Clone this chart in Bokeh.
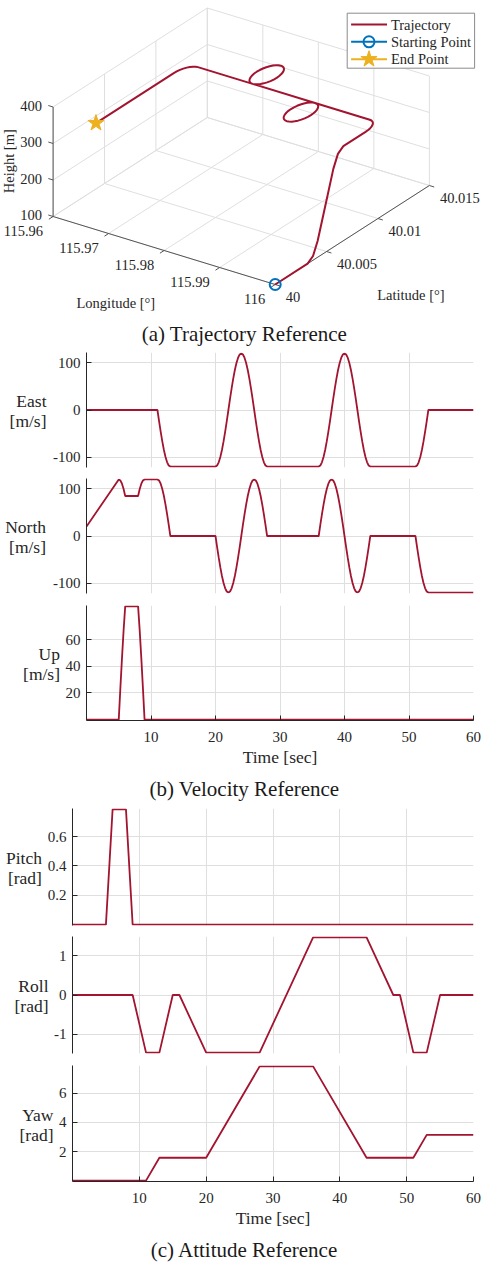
import numpy as np
from bokeh.plotting import figure
from bokeh.models import Range1d, FixedTicker
from bokeh.layouts import column, row
from bokeh.core.properties import value
from bokeh.embed import file_html
from bokeh.resources import INLINE

# ======================= DATA =======================
# ---- (b) velocity reference [m/s] ----
east_time = [0, 11, 11.25, 11.5, 11.75, 12, 12.25, 12.5, 12.75, 13,
             20, 20.25, 20.5, 20.75, 21, 21.25, 21.5, 21.75, 22, 22.25, 22.5, 22.75, 23, 23.25, 23.5, 23.75,
             24, 24.25, 24.5, 24.75, 25, 25.25, 25.5, 25.75, 26, 26.25, 26.5, 26.75, 27, 27.25, 27.5, 27.75, 28,
             36, 36.25, 36.5, 36.75, 37, 37.25, 37.5, 37.75, 38, 38.25, 38.5, 38.75, 39, 39.25, 39.5, 39.75,
             40, 40.25, 40.5, 40.75, 41, 41.25, 41.5, 41.75, 42, 42.25, 42.5, 42.75, 43, 43.25, 43.5, 43.75, 44,
             51, 51.25, 51.5, 51.75, 52, 52.25, 52.5, 52.75, 53, 60]
east_vel = [0, 0, -23.41, -45.92, -66.67, -84.85, -99.78, -110.87, -117.69, -120,
            -120, -117.69, -110.87, -99.78, -84.85, -66.67, -45.92, -23.41, 0, 23.41, 45.92, 66.67, 84.85, 99.78, 110.87, 117.69,
            120, 117.69, 110.87, 99.78, 84.85, 66.67, 45.92, 23.41, 0, -23.41, -45.92, -66.67, -84.85, -99.78, -110.87, -117.69, -120,
            -120, -117.69, -110.87, -99.78, -84.85, -66.67, -45.92, -23.41, 0, 23.41, 45.92, 66.67, 84.85, 99.78, 110.87, 117.69,
            120, 117.69, 110.87, 99.78, 84.85, 66.67, 45.92, 23.41, 0, -23.41, -45.92, -66.67, -84.85, -99.78, -110.87, -117.69, -120,
            -120, -117.69, -110.87, -99.78, -84.85, -66.67, -45.92, -23.41, 0, 0]

north_time = [0, 5, 5.25, 5.5, 5.75, 6, 8, 8.25, 8.5, 8.75, 9,
              11, 11.25, 11.5, 11.75, 12, 12.25, 12.5, 12.75, 13,
              20, 20.25, 20.5, 20.75, 21, 21.25, 21.5, 21.75, 22, 22.25, 22.5, 22.75, 23, 23.25, 23.5, 23.75,
              24, 24.25, 24.5, 24.75, 25, 25.25, 25.5, 25.75, 26, 26.25, 26.5, 26.75, 27, 27.25, 27.5, 27.75, 28,
              36, 36.25, 36.5, 36.75, 37, 37.25, 37.5, 37.75, 38, 38.25, 38.5, 38.75, 39, 39.25, 39.5, 39.75,
              40, 40.25, 40.5, 40.75, 41, 41.25, 41.5, 41.75, 42, 42.25, 42.5, 42.75, 43, 43.25, 43.5, 43.75, 44,
              51, 51.25, 51.5, 51.75, 52, 52.25, 52.5, 52.75, 53, 60]
north_vel = [20, 120, 117.69, 110.87, 99.78, 84.85, 84.85, 99.78, 110.87, 117.69, 120,
             120, 117.69, 110.87, 99.78, 84.85, 66.67, 45.92, 23.41, 0,
             0, -23.41, -45.92, -66.67, -84.85, -99.78, -110.87, -117.69, -120, -117.69, -110.87, -99.78, -84.85, -66.67, -45.92, -23.41,
             0, 23.41, 45.92, 66.67, 84.85, 99.78, 110.87, 117.69, 120, 117.69, 110.87, 99.78, 84.85, 66.67, 45.92, 23.41, 0,
             0, 23.41, 45.92, 66.67, 84.85, 99.78, 110.87, 117.69, 120, 117.69, 110.87, 99.78, 84.85, 66.67, 45.92, 23.41,
             0, -23.41, -45.92, -66.67, -84.85, -99.78, -110.87, -117.69, -120, -117.69, -110.87, -99.78, -84.85, -66.67, -45.92, -23.41, 0,
             0, -23.41, -45.92, -66.67, -84.85, -99.78, -110.87, -117.69, -120, -120]

up_time = [0, 5, 5.25, 5.5, 5.75, 6, 8, 8.25, 8.5, 8.75, 9, 60]
up_vel = [0, 0, 23.41, 45.92, 66.67, 84.85, 84.85, 66.67, 45.92, 23.41, 0, 0]

# ---- (c) attitude reference [rad] ----
pitch_time = [0, 5, 6, 8, 9, 60]
pitch_val = [0, 0, 0.7854, 0.7854, 0, 0]
roll_time = [0, 9, 11, 13, 15, 16, 20, 28, 36, 44, 48, 49, 51, 53, 55, 60]
roll_val = [0, 0, -1.467, -1.467, 0, 0, -1.467, -1.467, 1.467, 1.467, 0, 0, -1.467, -1.467, 0, 0]
yaw_time = [0, 11, 13, 20, 28, 36, 44, 51, 53, 60]
yaw_val = [0, 0, 1.5708, 1.5708, 7.854, 7.854, 1.5708, 1.5708, 3.1416, 3.1416]

time_ticks = [10, 20, 30, 40, 50, 60]
vel_ticks = [-100, 0, 100]
up_ticks = [20, 40, 60]
pitch_ticks = [0.2, 0.4, 0.6]
roll_ticks = [-1, 0, 1]
yaw_ticks = [2, 4, 6]

# ---- (a) trajectory reference ----
start_lon, start_lat, start_height = 116.0, 40.0, 100.0
m_per_deg_lon, m_per_deg_lat = 85276.0, 111000.0
# climb phase (east offset 0), local offsets [m]
climb_north_m = [0, 350, 408.47, 458.04, 542.89, 627.74, 677.31, 735.78]
climb_up_m = [0, 0, 11.63, 44.75, 129.60, 214.45, 247.57, 259.20]
# level flight phase, local offsets [m]
level_east_m = [0, -2.94, -11.63, -25.75, -44.75, -67.90, -94.32, -122.98, -152.79,
                -992.79, -1022.60, -1051.26, -1077.68, -1100.83, -1119.83, -1133.95, -1142.65, -1145.58,
                -1142.65, -1133.95, -1119.83, -1100.83, -1077.68, -1051.26, -1022.60, -992.79,
                -962.98, -934.32, -907.90, -884.75, -865.75, -851.63, -842.93, -840.00,
                -842.93, -851.63, -865.75, -884.75, -907.90, -934.32, -962.98, -992.79,
                -1952.79, -1982.60, -2011.26, -2037.68, -2060.83, -2079.83, -2093.95, -2102.65, -2105.58,
                -2102.65, -2093.95, -2079.83, -2060.83, -2037.68, -2011.26, -1982.60, -1952.79,
                -1922.98, -1894.32, -1867.90, -1844.75, -1825.75, -1811.63, -1802.93, -1800.00,
                -1802.93, -1811.63, -1825.75, -1844.75, -1867.90, -1894.32, -1922.98, -1952.79,
                -2792.79, -2822.60, -2851.26, -2877.68, -2900.83, -2919.83, -2933.95, -2942.65, -2945.58,
                -2945.58]
level_north_m = [975.78, 1005.59, 1034.25, 1060.67, 1083.82, 1102.82, 1116.94, 1125.64, 1128.57,
                 1128.57, 1125.63, 1116.94, 1102.82, 1083.82, 1060.67, 1034.25, 1005.59, 975.78,
                 945.97, 917.31, 890.89, 867.74, 848.74, 834.62, 825.93, 822.99,
                 825.93, 834.62, 848.74, 867.74, 890.89, 917.31, 945.97, 975.78,
                 1005.59, 1034.25, 1060.67, 1083.82, 1102.82, 1116.94, 1125.63, 1128.57,
                 1128.57, 1131.51, 1140.20, 1154.32, 1173.32, 1196.47, 1222.89, 1251.55, 1281.36,
                 1311.17, 1339.83, 1366.25, 1389.40, 1408.40, 1422.52, 1431.21, 1434.15,
                 1431.21, 1422.52, 1408.40, 1389.40, 1366.25, 1339.83, 1311.17, 1281.36,
                 1251.55, 1222.89, 1196.47, 1173.32, 1154.32, 1140.20, 1131.51, 1128.57,
                 1128.57, 1125.63, 1116.94, 1102.82, 1083.82, 1060.67, 1034.25, 1005.59, 975.78,
                 135.78]

lon_ticks = [115.96, 115.97, 115.98, 115.99, 116.0]
lon_labels = ["115.96", "115.97", "115.98", "115.99", "116"]
lat_ticks = [40.0, 40.005, 40.01, 40.015]
lat_labels = ["40", "40.005", "40.01", "40.015"]
h_ticks = [100, 200, 300, 400]
h_labels = ["100", "200", "300", "400"]

# ======================= STYLE =======================
FONT = value("Liberation Serif")
FONT_NAME = "Liberation Serif"
TXT = "#262626"
RED = "#A2142F"
BLUE = "#0072BD"
GOLD = "#EDB120"
GRID = "#dfdfdf"
W = 481


def blank(width, height):
    f = figure(width=width, height=height, x_range=Range1d(0, width), y_range=Range1d(0, height),
               min_border=0, toolbar_location=None, output_backend="svg",
               x_axis_location=None, y_axis_location=None, frame_align=False)
    f.grid.visible = False
    f.outline_line_color = None
    return f


# ======================= (a) 3-D trajectory =======================
traj_east = [0.0] * len(climb_north_m) + level_east_m
traj_north = climb_north_m + level_north_m
traj_up = climb_up_m + [climb_up_m[-1]] * len(level_east_m)
traj_lon = start_lon + np.array(traj_east) / m_per_deg_lon
traj_lat = start_lat + np.array(traj_north) / m_per_deg_lat
traj_h = start_height + np.array(traj_up)

H3 = 347
ORIGIN = (52.6, 216.0)     # screen px of (lon min, lat min, h min), y downward
UVEC = (222.1, 68.0)       # screen extent of the longitude axis
VVEC = (154.2, -99.0)      # screen extent of the latitude axis
WVEC = (0.0, -109.5)       # screen extent of the height axis


def proj(lon, lat, h):
    lon = np.asarray(lon, dtype=float)
    lat = np.asarray(lat, dtype=float)
    h = np.asarray(h, dtype=float)
    u = (lon - lon_ticks[0]) / (lon_ticks[-1] - lon_ticks[0])
    v = (lat - lat_ticks[0]) / (lat_ticks[-1] - lat_ticks[0])
    w = (h - h_ticks[0]) / (h_ticks[-1] - h_ticks[0])
    sx = ORIGIN[0] + u * UVEC[0] + v * VVEC[0] + w * WVEC[0]
    sy = ORIGIN[1] + u * UVEC[1] + v * VVEC[1] + w * WVEC[1]
    return sx, H3 - sy


p3 = blank(W, H3)

lo0, lo1 = lon_ticks[0], lon_ticks[-1]
la0, la1 = lat_ticks[0], lat_ticks[-1]
h0, h1 = h_ticks[0], h_ticks[-1]
segs = []
for lo in lon_ticks:
    segs.append(((lo, la0, h0), (lo, la1, h0)))
    segs.append(((lo, la1, h0), (lo, la1, h1)))
for la in lat_ticks:
    segs.append(((lo0, la, h0), (lo1, la, h0)))
    segs.append(((lo0, la, h0), (lo0, la, h1)))
for hh in h_ticks:
    segs.append(((lo0, la0, hh), (lo0, la1, hh)))
    segs.append(((lo0, la1, hh), (lo1, la1, hh)))
gx, gy = [], []
for a, b in segs:
    x, y = proj([a[0], b[0]], [a[1], b[1]], [a[2], b[2]])
    gx.append(list(x)); gy.append(list(y))
p3.multi_line(gx, gy, line_color=GRID, line_width=1)

# axis lines and outward tick marks
ax_segs = [((lo0, la0, h0), (lo1, la0, h0)), ((lo1, la0, h0), (lo1, la1, h0)), ((lo0, la0, h0), (lo0, la0, h1))]
axx, axy = [], []
for a, b in ax_segs:
    x, y = proj([a[0], b[0]], [a[1], b[1]], [a[2], b[2]])
    axx.append(list(x)); axy.append(list(y))
tx, ty = proj(lon_ticks, [la0] * len(lon_ticks), [h0] * len(lon_ticks))
for x, y in zip(tx, ty):
    axx.append([x, x - 4.2]); axy.append([y, y - 2.7])
lx, ly = proj([lo1] * len(lat_ticks), lat_ticks, [h0] * len(lat_ticks))
for x, y in zip(lx, ly):
    axx.append([x, x + 4.8]); axy.append([y, y - 1.5])
hx, hy = proj([lo0] * len(h_ticks), [la0] * len(h_ticks), h_ticks)
for x, y in zip(hx, hy):
    axx.append([x, x - 4.8]); axy.append([y, y + 1.5])
p3.multi_line(axx, axy, line_color="#555555", line_width=1)

p3.text(x=tx - 10, y=ty - 14.5, text=lon_labels, text_align="right", text_baseline="middle",
        text_font=FONT, text_font_size="14.5px", text_color=TXT)
p3.text(x=lx + 10.5, y=ly - 12.5, text=lat_labels, text_align="left", text_baseline="middle",
        text_font=FONT, text_font_size="14.5px", text_color=TXT)
p3.text(x=hx - 11, y=hy + 1.5, text=h_labels, text_align="right", text_baseline="middle",
        text_font=FONT, text_font_size="14.5px", text_color=TXT)

mx, my = proj((lo0 + lo1) / 2, la0, h0)
p3.text(x=[float(mx) - 48.3], y=[float(my) - 52.3], text=["Longitude [°]"], text_align="center",
        text_baseline="middle", text_font=FONT, text_font_size="14.5px", text_color=TXT)
mx, my = proj(lo1, (la0 + la1) / 2, h0)
p3.text(x=[float(mx) + 58.6], y=[float(my) - 59.8], text=["Latitude [°]"], text_align="center",
        text_baseline="middle", text_font=FONT, text_font_size="14.5px", text_color=TXT)
mx, my = proj(lo0, la0, (h0 + h1) / 2)
p3.text(x=[float(mx) - 44.4], y=[float(my) + 0.5], text=["Height [m]"], angle=np.pi / 2,
        text_align="center", text_baseline="middle", text_font=FONT, text_font_size="14.5px", text_color=TXT)

trx, try_ = proj(traj_lon, traj_lat, traj_h)
p3.line(trx, try_, line_color=RED, line_width=2)
sx, sy = proj([traj_lon[0]], [traj_lat[0]], [traj_h[0]])
p3.scatter(sx, sy, marker="circle", size=11, fill_color=None, line_color=BLUE, line_width=2)
ex, ey = proj([traj_lon[-1]], [traj_lat[-1]], [traj_h[-1]])
p3.scatter(ex, ey, marker="star", size=17, fill_color=GOLD, line_color=GOLD)

# legend
p3.quad(left=[346.7], right=[474.1], bottom=[H3 - 67.7], top=[H3 - 12.7], fill_color="white",
        line_color="#8a8a8a", line_width=1)
rows_y = [H3 - 24.0, H3 - 41.3, H3 - 58.7]
leg_names = ["Trajectory", "Starting Point", "End Point"]
leg_cols = [RED, BLUE, GOLD]
for ry, c in zip(rows_y, leg_cols):
    p3.line([350.6, 386.5], [ry, ry], line_color=c, line_width=2)
p3.scatter([368.5], [rows_y[1]], marker="circle", size=11, fill_color=None, line_color=BLUE, line_width=2)
p3.scatter([368.5], [rows_y[2]], marker="star", size=17, fill_color=GOLD, line_color=GOLD)
p3.text(x=[390.4] * 3, y=rows_y, text=leg_names, text_align="left", text_baseline="middle",
        text_font=FONT, text_font_size="14.5px", text_color=TXT)

p3.text(x=[244], y=[13.4], text=["(a) Trajectory Reference"], text_align="center",
        text_baseline="middle", text_font=FONT, text_font_size="21px", text_color="#1a1a1a")


# ======================= 2-D panels =======================
def panel(t, v, yticks, lines, gap, frame_left, lab_w, height, top, bottom, show_time):
    vmin, vmax = min(v), max(v)
    pad = (vmax - vmin) * 0.008
    p = figure(width=W - lab_w, height=height, x_range=Range1d(0, 60), y_range=Range1d(vmin - pad, vmax + pad),
               min_border_left=frame_left - lab_w, min_border_right=8, min_border_top=top,
               min_border_bottom=bottom, toolbar_location=None, output_backend="svg",
               x_axis_location="below" if show_time else None, frame_align=False)
    p.outline_line_color = None
    p.xgrid.ticker = FixedTicker(ticks=time_ticks)
    p.ygrid.ticker = FixedTicker(ticks=yticks)
    for g in (p.xgrid, p.ygrid):
        g.grid_line_color = GRID
        g.grid_line_width = 1
    axes = list(p.yaxis) + (list(p.xaxis) if show_time else [])
    for ax in axes:
        ax.axis_line_color = TXT
        ax.axis_line_width = 1
        ax.major_tick_in = 5
        ax.major_tick_out = 0
        ax.major_tick_line_color = TXT
        ax.minor_tick_line_color = None
        ax.major_label_text_font = FONT_NAME
        ax.major_label_text_font_size = "15px"
        ax.major_label_text_color = TXT
    p.yaxis.ticker = FixedTicker(ticks=yticks)
    p.yaxis.major_label_overrides = {k: str(k) for k in yticks}
    p.yaxis.major_label_standoff = 6
    if show_time:
        p.xaxis.ticker = FixedTicker(ticks=time_ticks)
        p.xaxis.major_label_overrides = {k: str(k) for k in time_ticks}
        p.xaxis.major_label_standoff = 11
        p.xaxis.axis_label = "Time [sec]"
        p.xaxis.axis_label_text_font = FONT_NAME
        p.xaxis.axis_label_text_font_size = "17.5px"
        p.xaxis.axis_label_text_font_style = "normal"
        p.xaxis.axis_label_text_color = TXT
        p.xaxis.axis_label_standoff = 2
    p.line(t, v, line_color=RED, line_width=1.8)

    # y label (two horizontal lines, right aligned) in a strip left of the axis
    lf = blank(lab_w, height)
    fh = height - top - bottom
    yc = bottom + fh / 2
    lf.text(x=[frame_left - gap] * 2, y=[yc + 9, yc - 11], text=lines, text_align="right",
            text_baseline="middle", text_font=FONT, text_font_size="17.5px", text_color=TXT)
    return row(lf, p, spacing=0)


def caption(text, height, ymid):
    f = blank(W, height)
    f.text(x=[244], y=[ymid], text=[text], text_align="center", text_baseline="middle",
           text_font=FONT, text_font_size="21px", text_color="#1a1a1a")
    return f


rE = panel(east_time, east_vel, vel_ticks, ["East", "[m/s]"], 40, 86, 48, 126, 5, 6, False)
rN = panel(north_time, north_vel, vel_ticks, ["North", "[m/s]"], 40.5, 86, 48, 126, 5, 6, False)
rU = panel(up_time, up_vel, up_ticks, ["Up", "[m/s]"], 26.5, 86, 61, 171, 6, 50, True)
cB = caption("(b) Velocity Reference", 32, 13.1)
rP = panel(pitch_time, pitch_val, pitch_ticks, ["Pitch", "[rad]"], 30.6, 72, 44, 129, 6, 6, False)
rR = panel(roll_time, roll_val, roll_ticks, ["Roll", "[rad]"], 24, 72, 49, 128, 5, 6, False)
rY = panel(yaw_time, yaw_val, yaw_ticks, ["Yaw", "[rad]"], 19, 72, 54, 173, 6, 51, True)
cC = caption("(c) Attitude Reference", 30, 12.4)

layout = column(p3, rE, rN, rU, cB, rP, rR, rY, cC, spacing=0)
open("out.html", "w").write(file_html(layout, INLINE))
